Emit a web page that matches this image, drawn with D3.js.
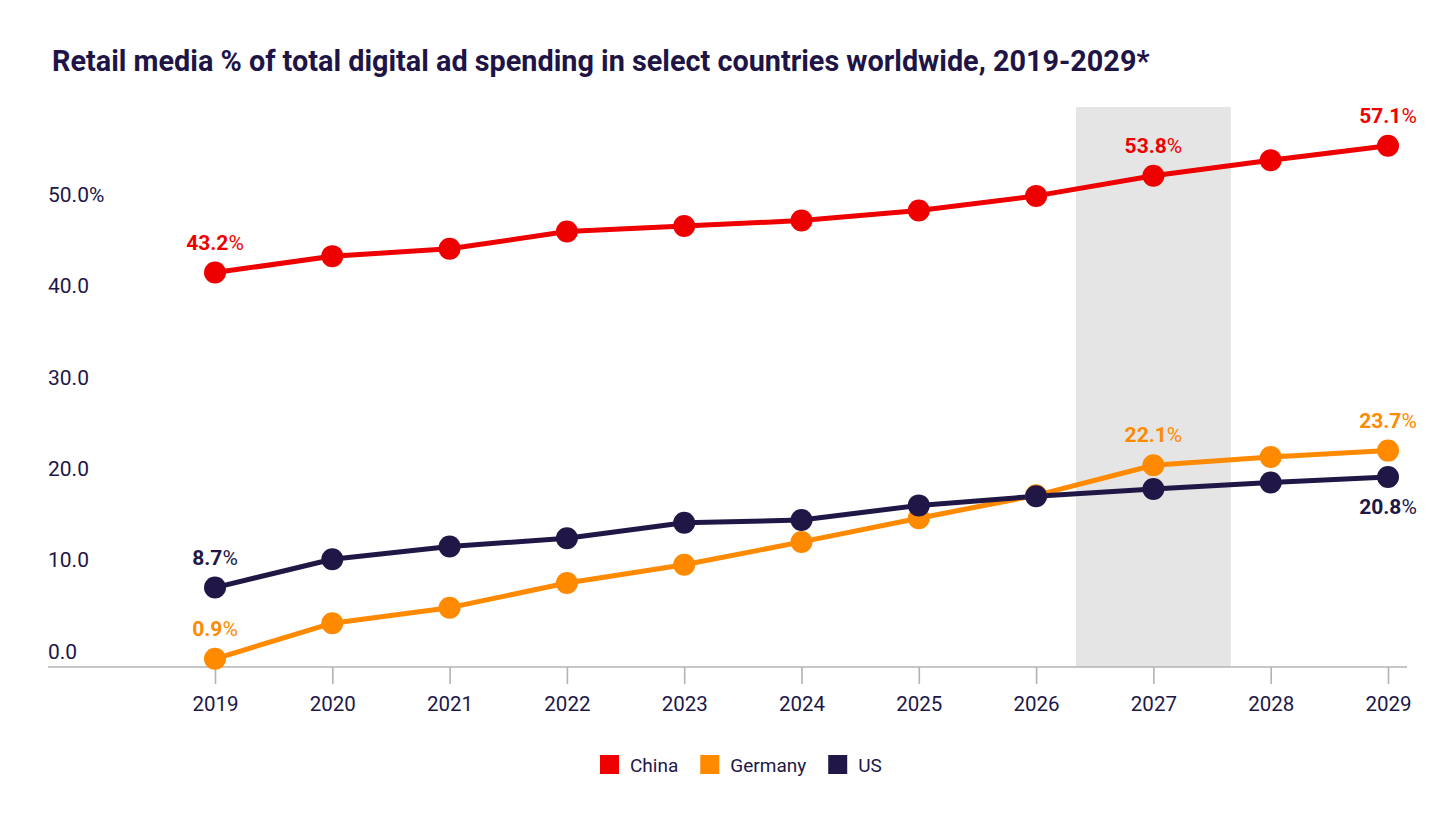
<!DOCTYPE html>
<html>
<head>
<meta charset="utf-8">
<script src="https://cdn.jsdelivr.net/npm/d3@7"></script>
<style>
  html, body { margin: 0; padding: 0; background: #fff; }
  svg { display: block; font-family: Roboto, "Open Sans", sans-serif; }
</style>
</head>
<body>
<svg id="chart" width="1456" height="823"></svg>
<script>
const title = "Retail media % of total digital ad spending in select countries worldwide, 2019-2029*";
const years = [2019, 2020, 2021, 2022, 2023, 2024, 2025, 2026, 2027, 2028, 2029];
const china   = [43.2, 45.0, 45.8, 47.7, 48.3, 48.9, 50.0, 51.6, 53.8, 55.5, 57.1];
const germany = [0.9, 4.8, 6.5, 9.2, 11.2, 13.7, 16.3, 18.8, 22.1, 23.0, 23.7];
const us      = [8.7, 11.8, 13.2, 14.1, 15.8, 16.1, 17.7, 18.7, 19.5, 20.2, 20.8];
const yTicks = [0, 10, 20, 30, 40, 50];
const highlightYear = 2027;
const seriesNames = ["China", "Germany", "US"];
const seriesColors = ["#ee0000", "#ff8a00", "#211747"];
// labelled points: [seriesIndex, yearIndex, position]
const labelled = [
  [0, 0, "above"], [0, 8, "above"], [0, 10, "above"],
  [1, 0, "above"], [1, 8, "above"], [1, 10, "above"],
  [2, 0, "above"], [2, 10, "below"]
];

const series = [china, germany, us];
const navy = "#211747";

const svg = d3.select("#chart");
const x = d3.scaleLinear().domain([2019, 2029]).range([215, 1388]);
const y = d3.scaleLinear().domain([0, 60]).range([667, 119.2]);
const step = x(2020) - x(2019);

// title
svg.append("text").attr("x", 52).attr("y", 71)
  .attr("font-size", 28.8).attr("font-weight", 700).attr("fill", "#1e1546")
  .text(title);

// highlight band
svg.append("rect")
  .attr("x", x(highlightYear) - step * 0.66)
  .attr("width", step * 1.32)
  .attr("y", 107)
  .attr("height", y(0) - 107)
  .attr("fill", "#e5e5e5");

// y tick labels (sit above their value)
svg.append("g").selectAll("text").data(yTicks).join("text")
  .attr("x", 48).attr("y", d => y(d) - 8.5)
  .attr("font-size", 21).attr("fill", navy)
  .text((d, i) => d3.format(".1f")(d) + (i === yTicks.length - 1 ? "%" : ""));

// x axis
const xAxis = d3.axisBottom(x).tickValues(years).tickFormat(d3.format("d"))
  .tickSize(17).tickPadding(12).tickSizeOuter(0);
const gx = svg.append("g").attr("transform", `translate(0,${y(0)})`).call(xAxis);
gx.select(".domain").remove();
gx.append("line").attr("x1", 48).attr("x2", 1407).attr("y1", 0).attr("y2", 0)
  .attr("stroke", "#b3b3b3").attr("stroke-width", 1.6);
gx.selectAll(".tick line").attr("stroke", "#b3b3b3").attr("stroke-width", 1.6);
gx.selectAll(".tick text").attr("font-size", 20.5).attr("fill", navy)
  .attr("font-family", "Roboto, sans-serif");

// lines & points
const line = d3.line().x((d, i) => x(years[i])).y(d => y(d));
series.forEach((s, si) => {
  svg.append("path").datum(s).attr("d", line)
    .attr("fill", "none").attr("stroke", seriesColors[si]).attr("stroke-width", 5)
    .attr("stroke-linejoin", "round");
});
series.forEach((s, si) => {
  svg.append("g").selectAll("circle").data(s).join("circle")
    .attr("cx", (d, i) => x(years[i])).attr("cy", d => y(d)).attr("r", 11)
    .attr("fill", seriesColors[si]);
});

// value labels
labelled.forEach(([si, yi, pos]) => {
  const v = series[si][yi];
  const t = svg.append("text")
    .attr("x", x(years[yi]))
    .attr("y", pos === "above" ? y(v) - 23 : y(v) + 37)
    .attr("text-anchor", "middle").attr("font-size", 21)
    .attr("fill", seriesColors[si]);
  t.append("tspan").attr("font-weight", 700).text(d3.format(".1f")(v));
  t.append("tspan").attr("font-weight", 400).text("%");
});

// legend
const lg = svg.append("g");
let lx = 600;
seriesNames.forEach((n, i) => {
  lg.append("rect").attr("x", lx).attr("y", 755).attr("width", 19).attr("height", 19)
    .attr("fill", seriesColors[i]);
  const t = lg.append("text").attr("x", lx + 30).attr("y", 771.5)
    .attr("font-size", 19).attr("fill", navy).text(n);
  lx += 30 + t.node().getComputedTextLength() + 22;
});
</script>
</body>
</html>
